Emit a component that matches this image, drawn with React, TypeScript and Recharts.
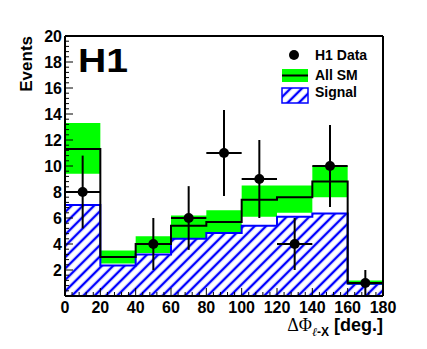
import { ComposedChart, Area, Line, Scatter, ErrorBar, XAxis, YAxis } from 'recharts';

const binEdges = [0, 20, 40, 60, 80, 100, 120, 140, 160, 180];
const smValues = [11.3, 3.0, 4.0, 5.4, 5.7, 7.4, 7.6, 8.8, 1.0];
const smBandLow = [9.4, 2.5, 3.3, 4.4, 4.9, 6.1, 6.4, 7.6, 0.85];
const smBandHigh = [13.3, 3.5, 4.6, 6.2, 6.6, 8.5, 8.5, 10.0, 1.2];
const signalValues = [7.0, 2.35, 3.2, 4.4, 4.85, 5.4, 6.1, 6.35, 0.95];

const dataCenters = [10, 50, 70, 90, 110, 130, 150, 170];
const dataValues = [8, 4, 6, 11, 9, 4, 10, 1];
const dataErrors = [2.8, 2, 2.45, 3.3, 3, 2, 3.15, 1];

const xTickLabels = [0, 20, 40, 60, 80, 100, 120, 140, 160, 180];
const yTickLabels = [2, 4, 6, 8, 10, 12, 14, 16, 18, 20];

// minor ticks: 5 per primary division, like ROOT's 510
const xTicks = Array.from({ length: 46 }, (_, i) => i * 4);
const yTicks = Array.from({ length: 51 }, (_, i) => +(i * 0.4).toFixed(1));

const nBins = smValues.length;
const stepData = binEdges.map((x, i) => {
  const b = Math.min(i, nBins - 1);
  return { x, sm: smValues[b], band: [smBandLow[b], smBandHigh[b]], signal: signalValues[b] };
});

const points = dataCenters.map((x, i) => ({ x, y: dataValues[i], ey: dataErrors[i], ex: 10 }));

const FONT = '"Liberation Sans", Arial, sans-serif';
const BLUE = '#0000ff';
const GREEN = '#00ff00';

const XTick = (p: any) => {
  const v = p.payload.value;
  const major = xTickLabels.includes(v);
  return (
    <g>
      <line x1={p.x} x2={p.x} y1={p.y} y2={p.y - (major ? 8 : 4)} stroke="#000" strokeWidth={1} />
      {major && (
        <text x={p.x} y={p.y + 17} textAnchor="middle" fontFamily={FONT} fontWeight="bold" fontSize={16} fill="#000">
          {v}
        </text>
      )}
    </g>
  );
};

const YTick = (p: any) => {
  const v = p.payload.value;
  const major = yTickLabels.includes(v);
  return (
    <g>
      <line x1={p.x} x2={p.x + (major ? 8 : 4)} y1={p.y} y2={p.y} stroke="#000" strokeWidth={1} />
      {major && (
        <text x={p.x - 3} y={p.y + 6} textAnchor="end" fontFamily={FONT} fontWeight="bold" fontSize={16} fill="#000">
          {v}
        </text>
      )}
    </g>
  );
};

const Dot = (p: any) => <circle cx={p.cx} cy={p.cy} r={5} fill="#000" />;

const Hatch = ({ id }: { id: string }) => (
  <pattern id={id} patternUnits="userSpaceOnUse" width={8} height={8} patternTransform="rotate(45)">
    <line x1={4} y1={0} x2={4} y2={8} stroke={BLUE} strokeWidth={2.4} />
  </pattern>
);

export default function App() {
  return (
    <div style={{ position: 'absolute', left: 0, top: 0, width: 427, height: 349, background: '#fff' }}>
      <ComposedChart
        width={427}
        height={349}
        data={stepData}
        margin={{ top: 35, right: 43, bottom: 52, left: 64 }}
      >
        <defs>
          <Hatch id="hatch" />
        </defs>
        <XAxis
          dataKey="x"
          type="number"
          domain={[0, 180]}
          ticks={xTicks}
          interval={0}
          height={1}
          tickSize={0}
          tickMargin={0}
          tickLine={false}
          tick={<XTick />}
          axisLine={{ stroke: '#000', strokeWidth: 2 }}
        />
        <XAxis xAxisId="top" orientation="top" type="number" domain={[0, 180]} height={1} tick={false} tickLine={false} axisLine={{ stroke: '#000', strokeWidth: 2 }} />
        <YAxis
          type="number"
          domain={[0, 20]}
          ticks={yTicks}
          interval={0}
          width={1}
          tickSize={0}
          tickMargin={0}
          tickLine={false}
          tick={<YTick />}
          axisLine={{ stroke: '#000', strokeWidth: 2 }}
        />
        <YAxis yAxisId="right" orientation="right" type="number" domain={[0, 20]} width={1} tick={false} tickLine={false} axisLine={{ stroke: '#000', strokeWidth: 2 }} />
        <Area dataKey="band" type="stepAfter" fill={GREEN} fillOpacity={1} stroke="none" isAnimationActive={false} />
        <Area dataKey="signal" type="stepAfter" fill="url(#hatch)" fillOpacity={1} stroke={BLUE} strokeWidth={2} isAnimationActive={false} />
        <Line dataKey="sm" type="stepAfter" stroke="#000" strokeWidth={2} dot={false} isAnimationActive={false} />
        <Scatter data={points} dataKey="y" shape={<Dot />} isAnimationActive={false}>
          <ErrorBar dataKey="ey" direction="y" width={0} stroke="#000" strokeWidth={2} />
          <ErrorBar dataKey="ex" direction="x" width={0} stroke="#000" strokeWidth={2} />
        </Scatter>
      </ComposedChart>
      <svg width={427} height={349} style={{ position: 'absolute', left: 0, top: 0, pointerEvents: 'none' }}>
        <defs>
          <Hatch id="hatch-legend" />
        </defs>
        <text x={78} y={72} fontFamily={FONT} fontWeight="bold" fontSize={34} textLength={50} lengthAdjust="spacingAndGlyphs">
          H1
        </text>
        <text x={32} y={36} transform="rotate(-90, 32, 36)" textAnchor="end" fontFamily={FONT} fontWeight="bold" fontSize={17}>
          Events
        </text>
        <text x={383} y={331} textAnchor="end" fontFamily={FONT} fontWeight="bold" fontSize={18}>
          <tspan fontFamily='"Liberation Serif", serif' fontWeight="normal">ΔΦ</tspan>
          <tspan fontFamily='"Liberation Serif", serif' fontWeight="normal" fontStyle="italic" fontSize={12} dy={5}>ℓ</tspan>
          <tspan fontSize={12}>-X</tspan>
          <tspan dy={-5}> [deg.]</tspan>
        </text>
        <circle cx={294} cy={55} r={5} fill="#000" />
        <text x={315} y={60} fontFamily={FONT} fontWeight="bold" fontSize={14}>H1 Data</text>
        <rect x={282} y={69} width={26} height={13} fill={GREEN} />
        <line x1={282} x2={308} y1={75.5} y2={75.5} stroke="#000" strokeWidth={2} />
        <text x={315} y={80} fontFamily={FONT} fontWeight="bold" fontSize={14}>All SM</text>
        <rect x={282} y={88} width={26} height={15} fill="url(#hatch-legend)" stroke={BLUE} strokeWidth={1.5} />
        <text x={315} y={97} fontFamily={FONT} fontWeight="bold" fontSize={14}>Signal</text>
      </svg>
    </div>
  );
}
